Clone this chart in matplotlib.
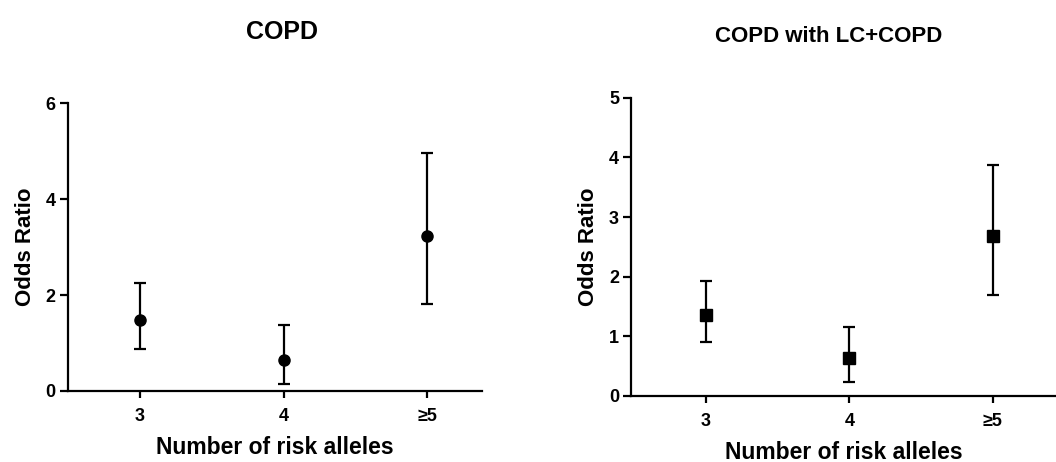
import matplotlib.pyplot as plt

plt.rcParams['font.family'] = ['Liberation Sans', 'DejaVu Sans']
plt.rcParams['font.weight'] = 'bold'

categories = ["3", "4", "\u22655"]
x_pos = [3, 4, 5]

# COPD
copd_or = [1.48, 0.65, 3.23]
copd_low = [0.87, 0.15, 1.81]
copd_high = [2.26, 1.38, 4.95]

# COPD with LC+COPD
lc_or = [1.36, 0.64, 2.69]
lc_low = [0.91, 0.23, 1.69]
lc_high = [1.93, 1.15, 3.88]


def draw_panel(ax, vals, low, high, marker, ms, yticks):
    err = [[v - l for v, l in zip(vals, low)], [h - v for v, h in zip(vals, high)]]
    ax.errorbar(x_pos, vals, yerr=err, fmt=marker, color="black", ms=ms,
                elinewidth=1.6, capsize=4.6, capthick=1.6)
    ax.set_ylim(0, yticks[-1])
    ax.set_yticks(yticks)
    ax.set_xticks(x_pos)
    ax.set_xticklabels(categories)
    ax.spines["top"].set_visible(False)
    ax.spines["right"].set_visible(False)
    ax.spines["left"].set_linewidth(1.6)
    ax.spines["bottom"].set_linewidth(1.6)
    ax.tick_params(axis="x", width=1.6, length=5, pad=7, labelsize=13)
    ax.tick_params(axis="y", width=1.6, length=5.5, pad=3.5, labelsize=13)
    ax.set_ylabel("Odds Ratio", fontsize=16, fontweight="bold", labelpad=7)
    ax.set_xlabel("Number of risk alleles", fontsize=16.5, fontweight="bold", labelpad=8)
    for lab in ax.get_xticklabels() + ax.get_yticklabels():
        lab.set_fontweight("bold")


fig = plt.figure(figsize=(10.56, 4.62), dpi=100)
ax1 = fig.add_axes([0.0644, 0.1537, 0.392, 0.6233])
ax2 = fig.add_axes([0.598, 0.1429, 0.402, 0.6456])

draw_panel(ax1, copd_or, copd_low, copd_high, "o", 8, [0, 2, 4, 6])
ax1.set_xlim(2.5, 5.38)
ax1.set_title("COPD", fontsize=18, fontweight="bold", pad=46, x=0.517)

draw_panel(ax2, lc_or, lc_low, lc_high, "s", 8.6, [0, 1, 2, 3, 4, 5])
ax2.set_xlim(2.48, 5.44)
ax2.set_title("COPD with LC+COPD", fontsize=16, fontweight="bold", pad=40, x=0.465)

fig.savefig("out.png", dpi=100)
